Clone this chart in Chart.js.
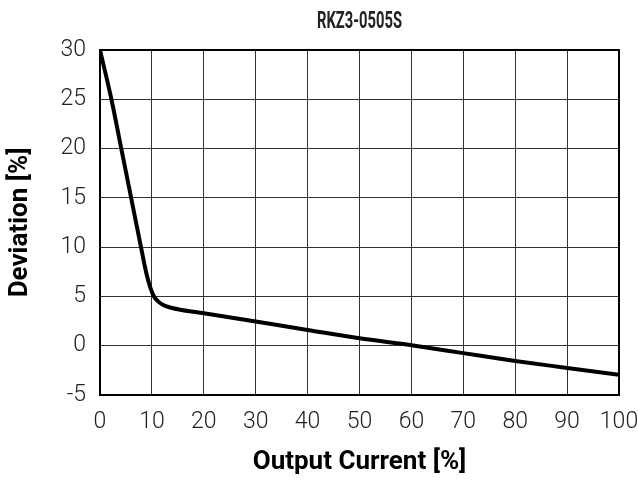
<!DOCTYPE html>
<html>
<head>
<meta charset="utf-8">
<script src="https://cdn.jsdelivr.net/npm/chart.js@4.4.1/dist/chart.umd.min.js"></script>
<style>
  html, body { margin: 0; padding: 0; background: #fff; }
  #wrap { width: 638px; height: 482px; }
</style>
</head>
<body>
<div id="wrap"><canvas id="c" width="638" height="482"></canvas></div>
<script>
const chartTitle = 'RKZ3-0505S';
const xAxisTitle = 'Output Current [%]';
const yAxisTitle = 'Deviation [%]';
const outputCurrent = [0, 2.2, 4.1, 6.0, 7.9, 9.0, 9.7, 10.4, 11.2, 12.3, 13.7, 16, 20, 30, 40, 50, 60, 70, 80, 90, 100];
const deviation = [30, 25, 20, 15, 10, 7.2, 5.9, 5.0, 4.5, 4.1, 3.85, 3.6, 3.3, 2.45, 1.6, 0.75, 0.05, -0.75, -1.55, -2.25, -2.95];
const xTicks = [0, 10, 20, 30, 40, 50, 60, 70, 80, 90, 100];
const yTicks = [-5, 0, 5, 10, 15, 20, 25, 30];

const FONT = "'Roboto', 'Liberation Sans', sans-serif";

const points = outputCurrent.map((x, i) => ({ x: x, y: deviation[i] }));

const framePlugin = {
  id: 'frame',
  afterDatasetsDraw(chart) {
    const a = chart.chartArea, ctx = chart.ctx;
    ctx.save();
    ctx.strokeStyle = '#000';
    ctx.lineWidth = 2;
    ctx.strokeRect(a.left, a.top, a.right - a.left, a.bottom - a.top);
    ctx.restore();
  }
};

// Title centred over the plot area, in a condensed rendering
const centeredTitle = {
  id: 'centeredTitle',
  afterDraw(chart) {
    const a = chart.chartArea, ctx = chart.ctx;
    ctx.save();
    ctx.fillStyle = '#222';
    ctx.font = "bold 24px " + FONT;
    ctx.textAlign = 'center';
    ctx.textBaseline = 'middle';
    const w = ctx.measureText(chartTitle).width;
    const sx = Math.min(1, 85 / w);
    ctx.translate((a.left + a.right) / 2, 22);
    ctx.scale(sx, 1);
    ctx.fillText(chartTitle, 0, 0);
    ctx.restore();
  }
};

new Chart(document.getElementById('c'), {
  type: 'line',
  data: {
    datasets: [{
      data: points,
      borderColor: '#000',
      borderWidth: 4,
      pointRadius: 0,
      fill: false,
      cubicInterpolationMode: 'monotone'
    }]
  },
  options: {
    responsive: false,
    animation: false,
    devicePixelRatio: 1,
    layout: { padding: { left: 0, right: 19, top: 50, bottom: 0 } },
    plugins: {
      legend: { display: false },
      tooltip: { enabled: false },
      title: { display: false }
    },
    scales: {
      x: {
        type: 'linear',
        min: 0, max: 100,
        afterBuildTicks(scale) { scale.ticks = xTicks.map(v => ({ value: v })); },
        afterFit(scale) { scale.height = 87; scale.paddingLeft = 0; scale.paddingRight = 0; },
        ticks: { color: '#222', font: { family: FONT, size: 23, weight: '300' }, padding: 13, maxRotation: 0, autoSkip: false },
        grid: { color: '#333', lineWidth: 1, drawTicks: false },
        border: { color: '#000', width: 2 },
        title: {
          display: true, text: xAxisTitle, color: '#000',
          font: { family: FONT, size: 26, weight: 'bold', lineHeight: 1.2 },
          padding: { top: 0, bottom: 4 }
        }
      },
      y: {
        type: 'linear',
        min: -5, max: 30,
        afterBuildTicks(scale) { scale.ticks = yTicks.map(v => ({ value: v })); },
        afterFit(scale) { scale.width = 100; scale.paddingTop = 0; scale.paddingBottom = 0; },
        ticks: { color: '#222', font: { family: FONT, size: 23, weight: '300' }, padding: 14, autoSkip: false },
        grid: { color: '#333', lineWidth: 1, drawTicks: false },
        border: { color: '#000', width: 2 },
        title: {
          display: true, text: yAxisTitle, color: '#000',
          font: { family: FONT, size: 26, weight: 'bold', lineHeight: 1.2 },
          padding: { top: 5, bottom: 0 }
        }
      }
    }
  },
  plugins: [framePlugin, centeredTitle]
});
</script>
</body>
</html>
